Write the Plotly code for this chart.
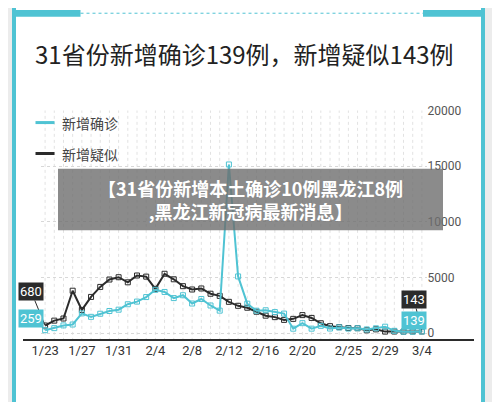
import plotly.graph_objects as go

dates = ["1/23", "1/24", "1/25", "1/26", "1/27", "1/28", "1/29", "1/30", "1/31",
         "2/1", "2/2", "2/3", "2/4", "2/5", "2/6", "2/7", "2/8", "2/9", "2/10", "2/11",
         "2/12", "2/13", "2/14", "2/15", "2/16", "2/17", "2/18", "2/19", "2/20", "2/21",
         "2/22", "2/23", "2/24", "2/25", "2/26", "2/27", "2/28", "2/29",
         "3/1", "3/2", "3/3", "3/4"]
confirmed = [259, 444, 688, 769, 1771, 1459, 1737, 1982, 2102, 2590, 2829, 3235, 3887,
             3694, 3143, 3399, 2656, 3062, 2478, 2015, 15152, 5090, 2641, 2009, 2048,
             1886, 1749, 394, 889, 397, 648, 409, 508, 406, 433, 327, 427, 573, 202,
             125, 119, 139]
suspected = [680, 1118, 1309, 3806, 2077, 3248, 4148, 4812, 5019, 4562, 5173, 5072,
             3971, 5328, 4833, 4214, 3916, 4008, 3536, 3342, 2807, 2450, 2277, 1918,
             1563, 1432, 1185, 1277, 1614, 1361, 882, 620, 530, 452, 439, 248, 335,
             132, 141, 129, 143, 143]
tick_dates = ["1/23", "1/27", "1/31", "2/4", "2/8", "2/12", "2/16", "2/20", "2/25", "2/29", "3/4"]
y_ticks = [0, 5000, 10000, 15000, 20000]

teal = "#4fc3d3"
dark = "#2b2b2b"
font = "Noto Sans CJK SC"

fig = go.Figure()
fig.add_trace(go.Scatter(x=dates, y=suspected, mode="lines+markers", name="新增疑似",
                         line=dict(color=dark, width=2),
                         marker=dict(symbol="square-open", size=5, color=dark)))
fig.add_trace(go.Scatter(x=dates, y=confirmed, mode="lines+markers", name="新增确诊",
                         line=dict(color=teal, width=2),
                         marker=dict(symbol="square-open", size=5, color=teal)))

shapes = [
    # card and teal frame
    dict(type="rect", xref="paper", yref="paper", x0=0.012, x1=0.95, y0=-0.05, y1=1.03,
         line=dict(color=teal, width=4), fillcolor="white", layer="below"),
    dict(type="rect", xref="paper", yref="paper", x0=0.012, x1=0.145, y0=0.978, y1=0.995,
         line=dict(width=0), fillcolor=teal),
    dict(type="rect", xref="paper", yref="paper", x0=0.83, x1=0.95, y0=0.978, y1=0.995,
         line=dict(width=0), fillcolor=teal),
    dict(type="line", xref="paper", yref="paper", x0=0.145, x1=0.83, y0=0.987, y1=0.987,
         line=dict(color=teal, width=1, dash="dot")),
    # legend lines
    dict(type="line", xref="paper", yref="paper", x0=0.055, x1=0.093, y0=0.715, y1=0.715,
         line=dict(color=teal, width=3)),
    dict(type="line", xref="paper", yref="paper", x0=0.055, x1=0.093, y0=0.638, y1=0.638,
         line=dict(color=dark, width=3)),
    # axis baseline
    dict(type="line", xref="paper", yref="paper", x0=0.03, x1=0.932, y0=0.174, y1=0.174,
         line=dict(color=dark, width=2)),
    # banner
    dict(type="rect", xref="paper", yref="paper", x0=0.1, x1=0.87, y0=0.447, y1=0.6,
         line=dict(width=0), fillcolor="rgba(110,110,110,0.8)", layer="above"),
]

annotations = [
    dict(text="31省份新增确诊139例，新增疑似143例", xref="paper", yref="paper",
         x=0.05, y=0.888, xanchor="left", yanchor="middle", showarrow=False,
         font=dict(size=24, color="#222222", family=font)),
    dict(text="新增确诊", xref="paper", yref="paper", x=0.103, y=0.715, xanchor="left",
         yanchor="middle", showarrow=False, font=dict(size=14, color="#444444", family=font)),
    dict(text="新增疑似", xref="paper", yref="paper", x=0.103, y=0.638, xanchor="left",
         yanchor="middle", showarrow=False, font=dict(size=14, color="#444444", family=font)),
    dict(text="<b>【31省份新增本土确诊10例黑龙江8例<br>,黑龙江新冠病最新消息】</b>",
         xref="paper", yref="paper", x=0.485, y=0.523, showarrow=False, align="center",
         font=dict(size=18, color="white", family=font)),
]
for xv, yv, c, ay, ax in [(dates[0], suspected[0], dark, -34, -14),
                          (dates[0], confirmed[0], teal, -12, -14),
                          (dates[-1], suspected[-1], dark, -32, -8),
                          (dates[-1], confirmed[-1], teal, -11, -8)]:
    annotations.append(dict(x=xv, y=yv, text=f"{yv}", showarrow=True, arrowhead=0,
                            arrowcolor=c, arrowwidth=1, ax=ax, ay=ay, bgcolor=c,
                            font=dict(size=13, color="white", family="Roboto"),
                            borderpad=1))

fig.update_layout(
    width=500, height=402, margin=dict(l=0, r=0, t=0, b=0, autoexpand=False),
    paper_bgcolor="#ececec", plot_bgcolor="rgba(0,0,0,0)", showlegend=False,
    shapes=shapes, annotations=annotations,
    xaxis=dict(domain=[0.065, 0.837], range=[-0.5, 41.5], tickmode="array",
               tickvals=tick_dates, ticktext=tick_dates, showgrid=False,
               tickfont=dict(size=13, color="#333333", family="Roboto"), ticks="",
               zeroline=False),
    yaxis=dict(domain=[0.172, 0.745], range=[-700, 20000], side="right",
               tickvals=y_ticks, ticktext=[str(v) for v in y_ticks],
               showgrid=True, gridcolor="#d8d8d8", griddash="dot",
               tickfont=dict(size=12, color="#555555", family="Roboto"), zeroline=False),
)
for d in dates:
    fig.add_vline(x=d, line=dict(color="#e2e2e2", width=1, dash="dot"), layer="below")

fig.write_html("out.html")
